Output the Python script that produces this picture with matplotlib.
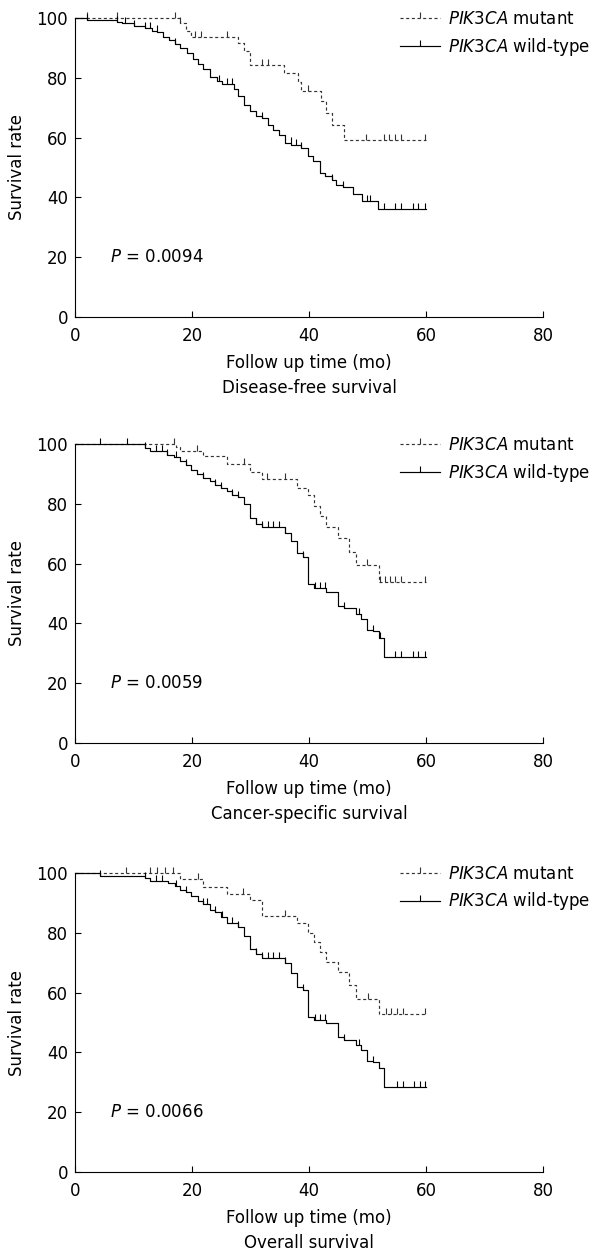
import numpy as np
import matplotlib
matplotlib.use("Agg")
import matplotlib.pyplot as plt
from matplotlib.path import Path
from matplotlib.lines import Line2D

plt.rcParams['font.family'] = ['DejaVu Sans']
plt.rcParams['mathtext.fontset'] = 'dejavusans'

# ---------------- data ----------------
panel_titles = ["Disease-free survival", "Cancer-specific survival", "Overall survival"]
p_labels = ["0.0094", "0.0059", "0.0066"]
series_labels = ["mutant", "wild-type"]
x_ticks = [0, 20, 40, 60, 80]
y_ticks = [0, 20, 40, 60, 80, 100]
follow_end = 60

# Disease-free survival
dfs_wt_t = [0, 2.1, 7.1, 8.1, 10.0, 12.0, 13.1, 14.1, 15.1, 16.0, 17.1, 17.9, 19.1, 20.1, 21.1, 21.9,
            23.0, 24.2, 25.1, 27.1, 27.9, 28.9, 29.9, 30.9, 31.9, 33.0, 33.9, 34.9, 35.9, 37.0, 38.7,
            39.9, 40.7, 41.9, 42.7, 43.9, 44.7, 45.8, 47.6, 49.0, 51.8]
dfs_wt_s = [100, 99.4, 98.8, 98.3, 97.4, 96.6, 95.7, 95.2, 93.8, 92.7, 91.2, 89.8, 88.2, 86.4, 84.5, 82.8,
            80.3, 78.9, 77.8, 76.3, 73.8, 71.0, 68.8, 67.3, 66.5, 64.3, 62.6, 60.9, 58.1, 57.5, 56.4,
            53.8, 52.2, 48.2, 47.1, 45.7, 44.0, 43.5, 41.3, 38.9, 36.1]
dfs_wt_c = [2.1, 7.1, 8.6, 10.0, 12.0, 12.9, 14.0, 17.1, 24.6, 25.9, 26.8, 31.9, 36.9, 37.7, 38.7,
            43.9, 45.8, 49.9, 50.5, 52.8, 54.7, 55.8, 57.8, 58.7, 59.8]
dfs_mut_t = [0, 17.9, 19.0, 19.9, 27.9, 28.9, 29.9, 35.8, 38.1, 38.7, 42.0, 42.9, 43.9, 45.9]
dfs_mut_s = [100, 98.3, 95.7, 93.8, 91.8, 89.0, 84.3, 81.5, 78.5, 75.5, 72.1, 68.2, 64.3, 59.2]
dfs_mut_c = [2.1, 7.1, 17.1, 17.9, 20.5, 21.6, 25.9, 32.0, 33.0, 39.9, 49.7, 52.8, 53.7, 54.7, 55.7, 59.9]

# Cancer-specific survival
css_wt_t = [0, 12.0, 12.8, 15.8, 17.0, 17.9, 19.0, 19.9, 20.9, 21.9, 23.0, 23.9, 24.9, 25.9, 26.9,
            27.9, 28.9, 29.9, 30.9, 31.9, 35.9, 36.9, 37.9, 38.9, 39.9, 40.9, 42.9, 44.9, 45.9, 48.0,
            48.9, 49.9, 50.9, 51.9, 52.8]
css_wt_s = [100, 98.7, 97.6, 96.4, 95.7, 94.2, 93.1, 91.4, 89.8, 88.7, 87.6, 86.4, 85.3, 84.2, 83.1,
            82.3, 80.1, 75.3, 73.4, 72.3, 70.3, 67.6, 63.4, 62.3, 53.1, 51.7, 50.6, 45.7, 45.0, 43.1,
            41.4, 37.9, 37.6, 35.1, 28.7]
css_wt_c = [4.2, 8.9, 12.0, 13.8, 14.8, 15.8, 17.3, 19.0, 21.9, 23.9, 24.9, 26.9, 27.9, 30.9, 31.9,
            33.0, 33.9, 34.8, 35.9, 38.9, 41.0, 41.9, 42.7, 45.9, 48.6, 50.9, 52.1, 54.7, 55.8, 57.8,
            58.7, 59.8]
css_mut_t = [0, 17.3, 17.9, 21.9, 25.9, 29.9, 31.9, 37.9, 39.9, 40.9, 41.9, 42.9, 44.9, 46.9, 48.0, 51.9]
css_mut_s = [100, 98.9, 97.6, 95.9, 93.4, 90.7, 88.3, 85.3, 82.8, 79.2, 75.9, 72.3, 68.7, 63.9, 59.4, 54.0]
css_mut_c = [17.0, 20.9, 28.9, 32.8, 35.9, 49.9, 52.1, 53.0, 53.8, 54.7, 55.8, 59.9]

# Overall survival
os_wt_t = [0, 4.2, 12.0, 12.8, 15.9, 17.1, 17.9, 19.0, 19.9, 21.1, 21.9, 23.0, 23.9, 24.9, 25.9,
           27.9, 28.9, 29.9, 30.9, 31.9, 35.9, 36.9, 37.9, 38.9, 39.9, 40.9, 42.9, 44.9, 45.9, 48.0,
           48.9, 49.9, 50.9, 51.9, 52.8]
os_wt_s = [100, 99.1, 98.3, 97.2, 96.5, 95.6, 94.3, 93.6, 92.3, 90.6, 89.5, 87.6, 87.0, 85.4, 83.2,
           82.1, 78.8, 74.6, 72.9, 71.5, 69.9, 66.6, 61.9, 60.8, 51.9, 50.8, 49.7, 45.0, 44.2, 42.5,
           40.9, 37.0, 36.8, 34.8, 28.4]
os_wt_c = [4.2, 12.0, 13.8, 14.9, 17.3, 19.0, 21.9, 22.5, 23.9, 25.1, 26.9, 27.9, 30.9, 31.9,
           33.0, 33.9, 34.8, 35.9, 38.9, 41.0, 41.9, 42.7, 45.9, 48.6, 50.9, 55.0, 56.0, 58.0, 59.0, 59.9]
os_mut_t = [0, 17.9, 21.9, 25.9, 29.9, 31.9, 37.9, 39.9, 40.9, 41.9, 42.9, 44.9, 46.9, 48.0, 51.9]
os_mut_s = [100, 98.0, 95.2, 93.1, 90.9, 85.6, 83.2, 80.1, 77.0, 73.7, 70.4, 66.9, 62.4, 57.8, 52.8]
os_mut_c = [8.8, 12.8, 14.1, 15.4, 16.8, 21.1, 28.8, 35.9, 50.1, 53.1, 54.1, 55.0, 56.0, 59.9]

panels = [
    dict(wt=(dfs_wt_t, dfs_wt_s, dfs_wt_c), mut=(dfs_mut_t, dfs_mut_s, dfs_mut_c)),
    dict(wt=(css_wt_t, css_wt_s, css_wt_c), mut=(css_mut_t, css_mut_s, css_mut_c)),
    dict(wt=(os_wt_t, os_wt_s, os_wt_c), mut=(os_mut_t, os_mut_s, os_mut_c)),
]

# ---------------- drawing ----------------
W, H = 603, 1254
fig = plt.figure(figsize=(W / 100, H / 100), dpi=100)

FS = 12
left_px, right_px = 75, 543
tops_px = [18, 444, 873]
ax_h_px = 299

tick_up = Path([(0, 0), (0, 1)])
PX = 0.72  # points per pixel

def surv_at(t_arr, s_arr, t):
    idx = np.searchsorted(np.asarray(t_arr), t, side='right') - 1
    return np.asarray(s_arr)[idx]

for i, pdata in enumerate(panels):
    top = tops_px[i]
    ax = fig.add_axes([left_px / W, 1 - (top + ax_h_px) / H,
                       (right_px - left_px) / W, ax_h_px / H])
    handles = []
    for key, ls, col in (("mut", (0, (2.6, 2.2)), "#333333"), ("wt", "-", "black")):
        t, s, c = pdata[key]
        xs = list(t) + [follow_end]
        ys = list(s) + [s[-1]]
        ax.step(xs, ys, where='post', color=col, lw=0.85, linestyle=ls, clip_on=False)
        cy = [surv_at(t, s, ct) for ct in c]
        ax.plot(c, cy, linestyle='none', marker=tick_up, markersize=8.6,
                markeredgecolor=col, markeredgewidth=0.8, clip_on=False)
        handles.append(Line2D([], [], color=col, lw=0.85, linestyle=ls, marker=tick_up,
                              markersize=8.6, markeredgecolor=col, markeredgewidth=0.8))
    ax.set_xlim(0, 80)
    ax.set_ylim(0, 100)
    ax.set_xticks(x_ticks)
    ax.set_yticks(y_ticks)
    for sp in ("top", "right"):
        ax.spines[sp].set_visible(False)
    for sp in ("left", "bottom"):
        ax.spines[sp].set_linewidth(0.8)
    ax.tick_params(direction='in', length=4, width=0.8, labelsize=FS)
    ax.tick_params(axis='x', pad=7)
    ax.tick_params(axis='y', pad=5)

    ax.annotate("Survival rate", xy=(0, 0.5), xycoords='axes fraction',
                xytext=(-58 * PX, 0), textcoords='offset points',
                rotation=90, ha='center', va='center', fontsize=FS)
    ax.annotate("Follow up time (mo)", xy=(0.5, 0), xycoords='axes fraction',
                xytext=(0, -46 * PX), textcoords='offset points',
                ha='center', va='center', fontsize=FS)
    ax.annotate(panel_titles[i], xy=(0.5, 0), xycoords='axes fraction',
                xytext=(0, -71 * PX), textcoords='offset points',
                ha='center', va='center', fontsize=FS)
    ax.text(6, 20, r"$\mathit{P}$ = " + p_labels[i], ha='left', va='center', fontsize=FS)

    labels = [r"$\mathit{PIK3CA}$ " + series_labels[0], r"$\mathit{PIK3CA}$ " + series_labels[1]]
    leg = ax.legend(handles, labels, loc='upper left',
                    bbox_to_anchor=((400 - left_px) / (right_px - left_px), 1 + 8 / ax_h_px),
                    frameon=False, fontsize=FS, numpoints=1, handlelength=2.4,
                    handletextpad=0.5, labelspacing=0.45, borderpad=0, borderaxespad=0)
    leg.set_clip_on(False)

fig.savefig("out.png", dpi=100)
